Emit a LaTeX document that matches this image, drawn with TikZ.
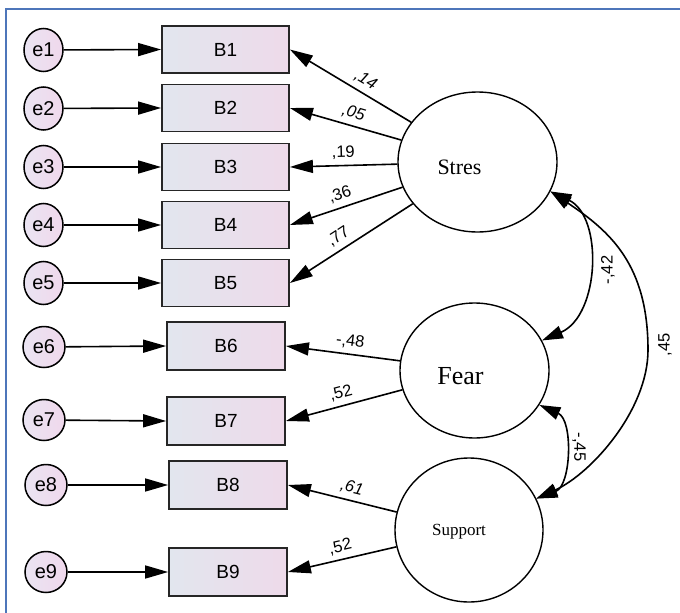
\documentclass[tikz,border=0pt]{standalone}
\usepackage{fontspec}
\setmainfont{Liberation Serif}
\setsansfont{Liberation Sans}
\usetikzlibrary{shapes.geometric,arrows.meta}
\definecolor{framecol}{RGB}{78,118,186}
\definecolor{boxL}{RGB}{226,230,238}
\definecolor{boxR}{RGB}{238,218,234}
\definecolor{errL}{RGB}{234,228,242}
\definecolor{errR}{RGB}{240,216,236}
\tikzset{
  errnode/.style={ellipse, draw=black, line width=1.5pt, left color=errL, right color=errR,
    inner sep=0pt, minimum width=39pt, minimum height=43pt, font=\sffamily\fontsize{20}{20}\selectfont},
  errnodeb/.style={errnode, minimum width=42pt, minimum height=41pt},
  obsnode/.style={rectangle, draw=black!85, line width=1.8pt, left color=boxL, right color=boxR,
    minimum width=127pt, minimum height=47pt, inner sep=0pt, font=\sffamily\fontsize{19}{19}\selectfont},
  obsnodeb/.style={obsnode, minimum width=118pt, minimum height=48pt},
  latnode/.style={ellipse, draw=black, line width=1.4pt, fill=white, inner sep=0pt},
  fwd/.style={line width=1.6pt, -{Triangle[length=23pt,width=13pt]}},
  bwd/.style={line width=1.6pt, {Triangle[length=23pt,width=13pt]}-},
  cov/.style={line width=1.6pt, {Triangle[length=21pt,width=13pt]}-{Triangle[length=21pt,width=13pt]}},
  coef/.style={font=\sffamily\fontsize{16.5}{16.5}\selectfont, inner sep=0pt, sloped, above=5pt},
  coefit/.style={coef, font=\sffamily\itshape\fontsize{16.5}{16.5}\selectfont},
  covlab/.style={font=\sffamily\fontsize{16.5}{16.5}\selectfont, inner sep=0pt},
  framestyle/.style={draw=framecol, line width=1.6pt}
}
\begin{document}
\begin{tikzpicture}[x=1pt,y=-1pt]
\useasboundingbox (0,0) rectangle (680,613);
\fill[white] (0,0) rectangle (680,613);
\draw[framestyle] (680,9) -- (6,9) -- (6,613);

% error terms
\node[errnode] (e1) at (43.5,50) {e1};
\node[errnode] (e2) at (43.5,108.5) {e2};
\node[errnode] (e3) at (43.5,167) {e3};
\node[errnode] (e4) at (43.5,225) {e4};
\node[errnode] (e5) at (43.5,283) {e5};
\node[errnodeb] (e6) at (44,347) {e6};
\node[errnodeb] (e7) at (44,420) {e7};
\node[errnodeb] (e8) at (46,485) {e8};
\node[errnodeb] (e9) at (46,572) {e9};

% observed
\node[obsnode] (B1) at (225.5,49.5) {B1};
\node[obsnode] (B2) at (225.5,108) {B2};
\node[obsnode] (B3) at (225.5,167) {B3};
\node[obsnode] (B4) at (225.5,225) {B4};
\node[obsnode] (B5) at (225.5,283) {B5};
\node[obsnodeb] (B6) at (226,346) {B6};
\node[obsnodeb] (B7) at (226,421) {B7};
\node[obsnodeb] (B8) at (228,485) {B8};
\node[obsnodeb] (B9) at (228,572) {B9};

% latent
\node[latnode, minimum width=159pt, minimum height=140pt,
  label={[xshift=-18pt,yshift=-5pt,font=\fontsize{22}{22}\selectfont]center:Stres}] (Stres) at (477.5,162) {};
\node[latnode, minimum width=149pt, minimum height=135pt,
  label={[xshift=-14pt,yshift=-6pt,font=\fontsize{26}{26}\selectfont]center:Fear}] (Fear) at (474.5,370.5) {};
\node[latnode, minimum width=148pt, minimum height=144pt,
  label={[xshift=-10pt,yshift=-2pt,font=\fontsize{17}{17}\selectfont]center:Support}] (Support) at (469,530) {};

% error arrows
\foreach \i in {1,...,9} {\draw[fwd] (e\i) -- (B\i.west);}

% loadings
\draw[bwd] (B1.east) -- (Stres) node[coefit, pos=0.57] (l1) {,14};
\draw[bwd] (B2.east) -- (Stres) node[coefit, pos=0.54] (l2) {,05};
\draw[bwd] (B3.east) -- (Stres) node[coef, pos=0.5] (l3) {,19};
\draw[bwd] (B4.east) -- (Stres) node[coef, pos=0.48] (l4) {,36};
\draw[bwd] (B5.east) -- (Stres) node[coef, pos=0.45] (l5) {,77};
\draw[bwd] (B6.east) -- (Fear) node[coef, pos=0.55] (l6) {-,48};
\draw[bwd] (B7.east) -- (Fear) node[coef, pos=0.5] (l7) {,52};
\draw[bwd] (B8.east) -- (Support) node[coefit, pos=0.56] (l8) {,61};
\draw[bwd] (B9.east) -- (Support) node[coef, pos=0.51] (l9) {,52};

% covariances
\coordinate (arcR) at (648,350);
\draw[cov] (Stres.-22) .. controls +(53,25) and +(58,-25) .. (Fear.24);
\draw[cov] (Fear.-28) .. controls +(34,15) and +(35,-13) .. (Support.25);
\draw[cov] (Stres.-22) .. controls +(60,40) and +(0,-85) .. (arcR)
  .. controls +(0,60) and +(55,-25) .. (Support.25);

\node[covlab, rotate=90] (c1) at (608,270) {-,42};
\node[covlab, rotate=-90] (c2) at (579,447) {-,45};
\node[covlab, rotate=90] (c3) at (665,345) {,45};
\end{tikzpicture}
\end{document}
